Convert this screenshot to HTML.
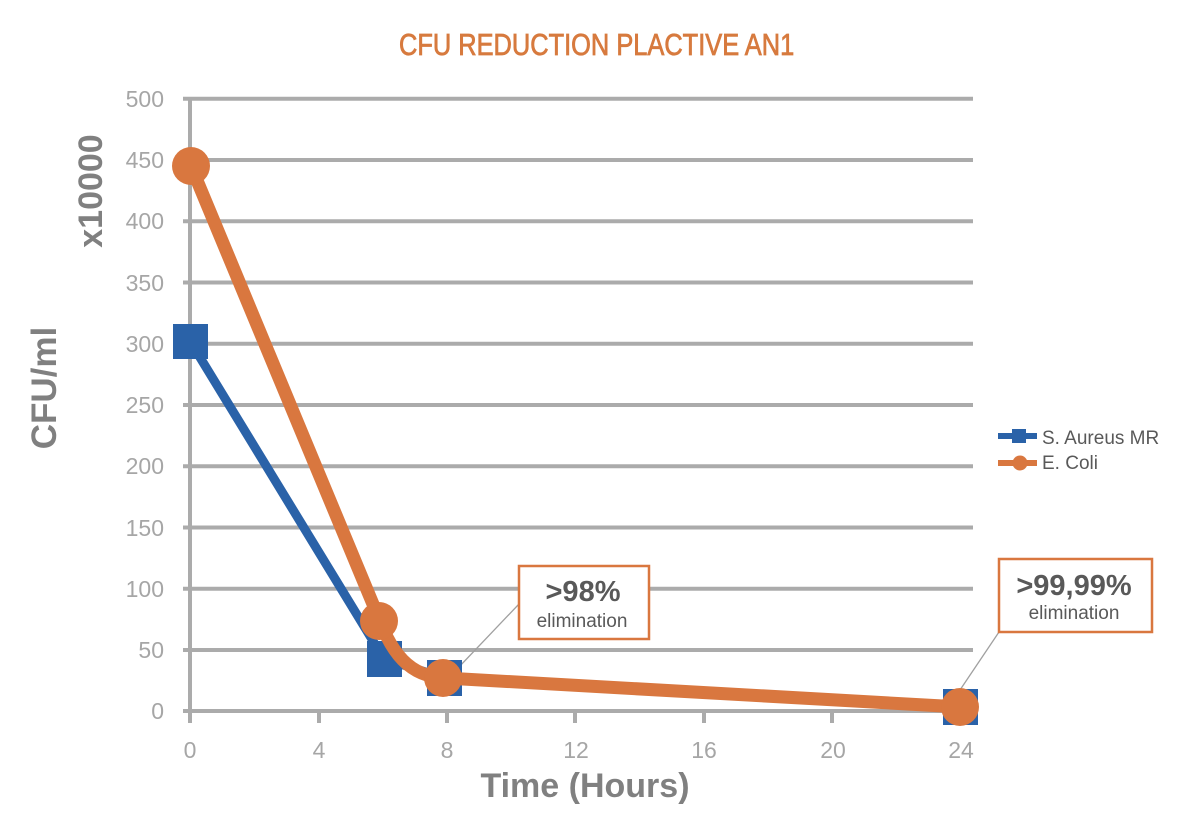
<!DOCTYPE html>
<html><head><meta charset="utf-8"><style>
html,body{margin:0;padding:0;background:#fff;}
svg{display:block;}
text{font-family:"Liberation Sans",Arial,sans-serif;}
</style></head><body>
<svg width="1200" height="824" viewBox="0 0 1200 824" xmlns="http://www.w3.org/2000/svg">
<rect width="1200" height="824" fill="#fff"/>
<!-- title -->
<text x="0" y="55" font-size="31" fill="#d77a3e" stroke="#d77a3e" stroke-width="0.8" transform="translate(399 0) scale(0.82 1)">CFU REDUCTION PLACTIVE AN1</text>
<!-- gridlines -->
<g stroke="#ababab" stroke-width="4">
<line x1="183" y1="98.8" x2="973" y2="98.8"/>
<line x1="183" y1="160" x2="973" y2="160"/>
<line x1="183" y1="221.2" x2="973" y2="221.2"/>
<line x1="183" y1="282.5" x2="973" y2="282.5"/>
<line x1="183" y1="343.7" x2="973" y2="343.7"/>
<line x1="183" y1="405" x2="973" y2="405"/>
<line x1="183" y1="466.2" x2="973" y2="466.2"/>
<line x1="183" y1="527.5" x2="973" y2="527.5"/>
<line x1="183" y1="588.7" x2="973" y2="588.7"/>
<line x1="183" y1="650" x2="973" y2="650"/>
<line x1="183" y1="711" x2="973" y2="711"/>
<line x1="190" y1="97" x2="190" y2="723"/>
<line x1="319" y1="711" x2="319" y2="723"/>
<line x1="447" y1="711" x2="447" y2="723"/>
<line x1="575" y1="711" x2="575" y2="723"/>
<line x1="704" y1="711" x2="704" y2="723"/>
<line x1="832" y1="711" x2="832" y2="723"/>
<line x1="961" y1="711" x2="961" y2="723"/>
</g>
<!-- y labels -->
<g font-size="23" fill="#a6a6a6" text-anchor="end">
<text x="164" y="107">500</text>
<text x="164" y="168">450</text>
<text x="164" y="229">400</text>
<text x="164" y="291">350</text>
<text x="164" y="352">300</text>
<text x="164" y="413">250</text>
<text x="164" y="474">200</text>
<text x="164" y="536">150</text>
<text x="164" y="597">100</text>
<text x="164" y="658">50</text>
<text x="164" y="719">0</text>
</g>
<!-- x labels -->
<g font-size="23" fill="#a6a6a6" text-anchor="middle">
<text x="190" y="758">0</text>
<text x="319" y="758">4</text>
<text x="447" y="758">8</text>
<text x="576" y="758">12</text>
<text x="704" y="758">16</text>
<text x="833" y="758">20</text>
<text x="961" y="758">24</text>
</g>
<!-- axis titles -->
<text x="585" y="797" font-size="34" font-weight="bold" fill="#808080" text-anchor="middle">Time (Hours)</text>
<text x="0" y="0" font-size="35" font-weight="bold" fill="#808080" text-anchor="middle" transform="translate(56 388) rotate(-90)">CFU/ml</text>
<text x="0" y="0" font-size="34" font-weight="bold" fill="#808080" text-anchor="middle" transform="translate(102 191) rotate(-90)">x10000</text>
<!-- connectors -->
<g stroke="#a0a0a0" stroke-width="1.3" fill="none">
<line x1="519" y1="604" x2="458" y2="668"/>
<line x1="999" y1="632" x2="960" y2="690"/>
</g>
<!-- blue series -->
<polyline points="190,341 384,659 445,678 961,707" fill="none" stroke="#2a62a8" stroke-width="9" stroke-linejoin="round"/>
<g fill="#2a62a8">
<rect x="173" y="324" width="35" height="35"/>
<rect x="367" y="641" width="35" height="36"/>
<rect x="427" y="660" width="35" height="36"/>
<rect x="943" y="689" width="35" height="36"/>
</g>
<!-- orange series -->
<path d="M191,166 L380,621 C391,650 408,677 445,678 L961,707" fill="none" stroke="#d9773f" stroke-width="13" stroke-linejoin="round"/>
<g fill="#d9773f">
<circle cx="191" cy="166" r="19"/>
<circle cx="379" cy="621" r="19"/>
<circle cx="443" cy="678" r="19"/>
<circle cx="960" cy="707" r="19"/>
</g>
<!-- annotation boxes -->
<rect x="519" y="566" width="130" height="73" fill="#fff" stroke="#d9773f" stroke-width="2.5"/>
<text x="583" y="601" font-size="29" font-weight="bold" fill="#595959" text-anchor="middle">&gt;98%</text>
<text x="582" y="627" font-size="19" fill="#595959" text-anchor="middle">elimination</text>
<rect x="999" y="559" width="153" height="73" fill="#fff" stroke="#d9773f" stroke-width="2.5"/>
<text x="1074" y="595" font-size="29" font-weight="bold" fill="#595959" text-anchor="middle">&gt;99,99%</text>
<text x="1074" y="619" font-size="19" fill="#595959" text-anchor="middle">elimination</text>
<!-- legend -->
<line x1="998" y1="436" x2="1037" y2="436" stroke="#2a62a8" stroke-width="6"/>
<rect x="1012" y="429" width="14" height="14" fill="#2a62a8"/>
<text x="1042" y="444" font-size="19" fill="#595959">S. Aureus MR</text>
<line x1="998" y1="463" x2="1037" y2="463" stroke="#d9773f" stroke-width="6"/>
<circle cx="1020" cy="463" r="7.5" fill="#d9773f"/>
<text x="1042" y="469" font-size="19" fill="#595959">E. Coli</text>
</svg>
</body></html>
